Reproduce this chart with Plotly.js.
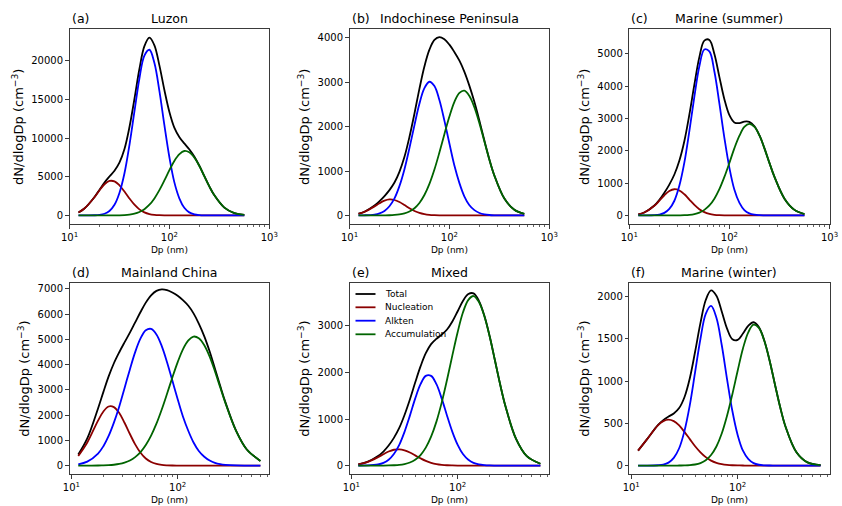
<!DOCTYPE html>
<html>
<head>
<meta charset="utf-8">
<script src="https://cdn.plot.ly/plotly-3.0.1.min.js"></script>
<style>html,body{margin:0;padding:0;background:#fff}</style>
</head>
<body>
<div id="chart" style="width:842px;height:506px"></div>
<script>
// Particle diameter grids (nm)
const dpTop = [12.3, 14.1, 17.8, 20.0, 22.4, 25.1, 28.2, 31.6, 35.5, 39.8, 44.7, 50.1, 56.2, 63.1, 70.8, 79.4, 89.1, 100, 112, 126, 141, 158, 178, 200, 224, 251, 282, 355, 447, 562];
const dpBottom = [11.6, 14.1, 17.8, 20.0, 22.4, 25.1, 28.2, 31.6, 35.5, 39.8, 44.7, 50.1, 56.2, 63.1, 70.8, 79.4, 89.1, 100, 112, 126, 141, 158, 178, 200, 224, 251, 282, 355, 447, 600];

// (a) Luzon, dN/dlogDp (cm^-3)
const luzonTotal = [380, 892, 2391, 3338, 4252, 5039, 5794, 6833, 8598, 11417, 15108, 18963, 21914, 23018, 22021, 19426, 16231, 13391, 11370, 10133, 9327, 8562, 7600, 6407, 5076, 3762, 2606, 1015, 300, 67];
const luzonNucleation = [380, 891, 2370, 3267, 4035, 4460, 4410, 3903, 3090, 2192, 1390, 788, 400, 182, 74, 27, 9, 3, 0, 0, 0, 0, 0, 0, 0, 0, 0, 0, 0, 0];
const luzonAitken = [0, 1, 21, 71, 216, 576, 1376, 2910, 5460, 9116, 13490, 17730, 20700, 21450, 19740, 16125, 11690, 7530, 4310, 2189, 987, 395, 140, 44, 12, 3, 1, 0, 0, 0];
const luzonAccumulation = [0, 0, 0, 0, 1, 3, 8, 20, 48, 109, 228, 445, 814, 1386, 2207, 3274, 4532, 5858, 7060, 7944, 8340, 8167, 7460, 6363, 5064, 3759, 2605, 1015, 300, 67];

// (b) Indochinese Peninsula
const indoTotal = [38, 83, 224, 323, 436, 570, 741, 982, 1319, 1765, 2295, 2850, 3353, 3731, 3950, 4015, 3965, 3844, 3681, 3484, 3238, 2928, 2552, 2127, 1687, 1266, 899, 380, 127, 34];
const indoNucleation = [37, 80, 204, 275, 332, 359, 347, 301, 233, 161, 100, 56, 28, 12, 5, 2, 1, 0, 0, 0, 0, 0, 0, 0, 0, 0, 0, 0, 0, 0];
const indoAitken = [1, 3, 20, 47, 102, 207, 384, 659, 1041, 1516, 2033, 2513, 2865, 3009, 2912, 2598, 2135, 1618, 1129, 727, 431, 236, 119, 55, 24, 9, 3, 0, 0, 0];
const indoAccumulation = [0, 0, 0, 1, 2, 4, 10, 22, 45, 88, 162, 281, 460, 710, 1033, 1415, 1829, 2226, 2552, 2757, 2807, 2692, 2433, 2072, 1663, 1257, 896, 380, 127, 34];

// (c) Marine (summer)
const marSumTotal = [34, 90, 306, 484, 701, 954, 1265, 1690, 2301, 3116, 4049, 4893, 5405, 5426, 4988, 4285, 3591, 3099, 2875, 2854, 2901, 2894, 2756, 2472, 2074, 1626, 1191, 519, 172, 43];
const marSumNucleation = [34, 89, 298, 457, 623, 754, 810, 772, 654, 491, 328, 194, 102, 48, 20, 7, 2, 1, 0, 0, 0, 0, 0, 0, 0, 0, 0, 0, 0, 0];
const marSumAitken = [0, 1, 8, 27, 78, 200, 454, 915, 1639, 2606, 3678, 4610, 5131, 5070, 4449, 3465, 2398, 1472, 803, 389, 167, 64, 22, 7, 2, 0, 0, 0, 0, 0];
const marSumAccumulation = [0, 0, 0, 0, 0, 0, 1, 3, 8, 19, 43, 89, 172, 308, 519, 813, 1191, 1626, 2072, 2465, 2734, 2830, 2734, 2465, 2072, 1626, 1191, 519, 172, 43];

// (d) Mainland China
const chinaTotal = [437, 1076, 2264, 2922, 3534, 4056, 4493, 4884, 5268, 5675, 6086, 6459, 6749, 6924, 6986, 6957, 6863, 6730, 6557, 6334, 6032, 5630, 5123, 4521, 3851, 3161, 2496, 1374, 638, 186];
const chinaNucleation = [384, 917, 1782, 2145, 2342, 2319, 2083, 1697, 1253, 840, 510, 281, 141, 64, 26, 10, 3, 1, 0, 0, 0, 0, 0, 0, 0, 0, 0, 0, 0, 0];
const chinaAitken = [53, 158, 478, 769, 1175, 1703, 2346, 3070, 3813, 4498, 5040, 5362, 5418, 5198, 4736, 4100, 3368, 2629, 1948, 1372, 917, 581, 351, 201, 109, 56, 28, 6, 1, 0];
const chinaAccumulation = [0, 1, 4, 8, 17, 34, 64, 117, 202, 337, 536, 816, 1190, 1662, 2224, 2847, 3492, 4100, 4609, 4962, 5115, 5049, 4772, 4320, 3742, 3105, 2468, 1368, 637, 186];

// (e) Mixed
const mixedTotal = [26, 78, 204, 302, 430, 595, 809, 1086, 1418, 1782, 2129, 2412, 2607, 2723, 2810, 2921, 3093, 3314, 3534, 3682, 3697, 3541, 3221, 2775, 2261, 1742, 1267, 567, 202, 39];
const mixedNucleation = [26, 75, 180, 244, 302, 340, 349, 328, 280, 219, 156, 101, 60, 32, 16, 7, 3, 1, 0, 0, 0, 0, 0, 0, 0, 0, 0, 0, 0, 0];
const mixedAitken = [0, 3, 24, 57, 125, 248, 445, 725, 1072, 1437, 1747, 1926, 1926, 1747, 1437, 1072, 725, 445, 248, 125, 57, 24, 9, 3, 1, 0, 0, 0, 0, 0];
const mixedAccumulation = [0, 0, 0, 1, 3, 7, 15, 33, 66, 126, 226, 385, 621, 944, 1357, 1842, 2365, 2868, 3286, 3557, 3640, 3517, 3212, 2772, 2260, 1742, 1267, 567, 202, 39];

// (f) Marine (winter)
const marWinTotal = [177, 313, 479, 538, 580, 617, 681, 809, 1034, 1347, 1688, 1959, 2073, 2009, 1823, 1621, 1495, 1487, 1563, 1656, 1696, 1639, 1477, 1235, 957, 687, 456, 160, 41, 5];
const marWinNucleation = [177, 313, 475, 526, 545, 526, 475, 399, 313, 229, 157, 100, 59, 33, 17, 8, 4, 2, 1, 0, 0, 0, 0, 0, 0, 0, 0, 0, 0, 0];
const marWinAitken = [0, 0, 4, 12, 35, 91, 205, 408, 716, 1105, 1501, 1795, 1889, 1750, 1427, 1024, 646, 360, 176, 76, 29, 10, 3, 1, 0, 0, 0, 0, 0, 0];
const marWinAccumulation = [0, 0, 0, 0, 0, 0, 1, 2, 5, 13, 30, 64, 125, 226, 379, 589, 845, 1125, 1386, 1580, 1667, 1629, 1474, 1234, 957, 687, 456, 160, 41, 5];

const modeNames = ['Total', 'Nucleation', 'Alkten', 'Accumulation'];
const modeColors = ['#000000', '#8b0000', '#0000ff', '#006400'];

const panels = [
  {tag: '(a)', title: 'Luzon', dp: dpTop, series: [luzonTotal, luzonNucleation, luzonAitken, luzonAccumulation]},
  {tag: '(b)', title: 'Indochinese Peninsula', dp: dpTop, series: [indoTotal, indoNucleation, indoAitken, indoAccumulation]},
  {tag: '(c)', title: 'Marine (summer)', dp: dpTop, series: [marSumTotal, marSumNucleation, marSumAitken, marSumAccumulation]},
  {tag: '(d)', title: 'Mainland China', dp: dpBottom, series: [chinaTotal, chinaNucleation, chinaAitken, chinaAccumulation]},
  {tag: '(e)', title: 'Mixed', dp: dpBottom, series: [mixedTotal, mixedNucleation, mixedAitken, mixedAccumulation]},
  {tag: '(f)', title: 'Marine (winter)', dp: dpBottom, series: [marWinTotal, marWinNucleation, marWinAitken, marWinAccumulation]}
];

// Frame geometry in pixels
const W = 842, H = 506;
const colPx = [[69.5, 269.3], [349.5, 549.3], [629.3, 829.5]];
const rowPx = [[29.3, 224.3], [282.8, 474.3]];
const yRanges = [[-1148, 24098], [-200, 4190], [-274, 5754], [-345, 7245], [-187, 3924], [-103, 2163]];
const yDticks = [5000, 1000, 1000, 1000, 1000, 500];
const xRangeTop = [1, 3];
const xRangeBottom = [0.982, 2.862];

const FONT = 'DejaVu Sans, sans-serif';
const AXIS_COLOR = '#3a3a3a';

const traces = [];
const layout = {
  width: W, height: H,
  margin: {l: 0, r: 0, t: 0, b: 0},
  paper_bgcolor: '#fff', plot_bgcolor: '#fff',
  font: {family: FONT, color: '#000'},
  showlegend: false,
  annotations: [], shapes: []
};

const minorTop = [20, 30, 40, 50, 60, 70, 80, 90, 200, 300, 400, 500, 600, 700, 800, 900];
const minorBottom = [20, 30, 40, 50, 60, 70, 80, 90, 200, 300, 400, 500, 600, 700];

panels.forEach((p, i) => {
  const row = Math.floor(i / 3), col = i % 3;
  const k = i === 0 ? '' : String(i + 1);
  const xa = 'x' + k, ya = 'y' + k;
  const xd = [colPx[col][0] / W, colPx[col][1] / W];
  const yd = [1 - rowPx[row][1] / H, 1 - rowPx[row][0] / H];

  p.series.forEach((vals, s) => {
    traces.push({
      x: p.dp, y: vals, xaxis: xa, yaxis: ya,
      type: 'scatter', mode: 'lines', name: modeNames[s],
      line: {color: modeColors[s], width: 1.8, shape: 'spline', smoothing: 1},
      hoverinfo: 'skip'
    });
  });

  layout['xaxis' + k] = {
    domain: xd, anchor: ya, type: 'log',
    range: row === 0 ? xRangeTop : xRangeBottom,
    tickmode: 'array',
    tickvals: [10, 100, 1000],
    ticktext: ['10<sup>1</sup>', '10<sup>2</sup>', '10<sup>3</sup>'],
    ticks: 'outside', ticklen: 3.5, tickwidth: 1, tickcolor: AXIS_COLOR,
    minor: {tickvals: row === 0 ? minorTop : minorBottom, ticks: 'outside', ticklen: 2, tickwidth: 0.8, tickcolor: AXIS_COLOR, showgrid: false},
    showline: true, linecolor: AXIS_COLOR, linewidth: 1, mirror: true,
    showgrid: false, zeroline: false,
    tickfont: {family: FONT, size: 10, color: '#000'},
    title: {text: 'Dp (nm)', font: {family: FONT, size: 9, color: '#000'}, standoff: 4}
  };
  layout['yaxis' + k] = {
    domain: yd, anchor: xa,
    range: yRanges[i], tick0: 0, dtick: yDticks[i], tickformat: 'd',
    ticks: 'outside', ticklen: 3.5, tickwidth: 1, tickcolor: AXIS_COLOR,
    showline: true, linecolor: AXIS_COLOR, linewidth: 1, mirror: true,
    showgrid: false, zeroline: false,
    tickfont: {family: FONT, size: 10, color: '#000'},
    title: {text: 'dN/dlogDp (cm<sup>\u22123</sup>)', font: {family: FONT, size: 13, color: '#000'}, standoff: 4}
  };

  // Panel tag and title above each frame
  layout.annotations.push({
    xref: xa + ' domain', yref: ya + ' domain', x: 0, y: 1, xanchor: 'left', yanchor: 'bottom',
    yshift: 1, text: p.tag, showarrow: false, font: {family: FONT, size: 12.5, color: '#000'}
  });
  layout.annotations.push({
    xref: xa + ' domain', yref: ya + ' domain', x: 0.5, y: 1, xanchor: 'center', yanchor: 'bottom',
    yshift: 1, text: p.title, showarrow: false, font: {family: FONT, size: 12.5, color: '#000'}
  });
});

// Legend inside the "Mixed" panel
const legendRows = [11.2, 24.5, 37.9, 51.5];
const legAxH = rowPx[1][1] - rowPx[1][0];
const legAxW = colPx[1][1] - colPx[1][0];
modeNames.forEach((name, s) => {
  const yy = 1 - legendRows[s] / legAxH;
  layout.shapes.push({
    type: 'line', xref: 'x5 domain', yref: 'y5 domain',
    x0: 6 / legAxW, x1: 26 / legAxW, y0: yy, y1: yy,
    line: {color: modeColors[s], width: 1.8}
  });
  layout.annotations.push({
    xref: 'x5 domain', yref: 'y5 domain', x: 33 / legAxW, y: yy,
    xanchor: 'left', yanchor: 'middle', text: name, showarrow: false,
    font: {family: FONT, size: 9, color: '#000'}
  });
});

Plotly.newPlot('chart', traces, layout, {staticPlot: true, displayModeBar: false});
</script>
</body>
</html>
